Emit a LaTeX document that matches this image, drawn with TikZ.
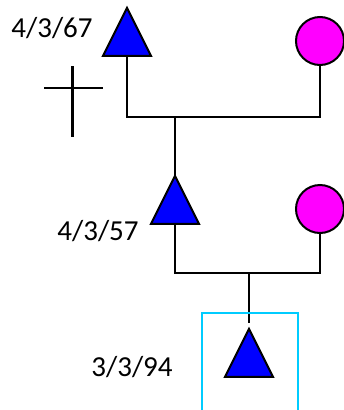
\documentclass[tikz,border=0pt]{standalone}
\usepackage{fontspec}
\setmainfont{Carlito}
\usetikzlibrary{shapes.geometric}
\definecolor{probandbox}{RGB}{0,204,255}
\definecolor{femalefill}{RGB}{255,0,255}

\begin{document}
\begin{tikzpicture}[x = 1pt, y = -1pt, % pixel units, y down
                line width = 2pt, % line style
                font = \fontsize{29}{32}\selectfont
            ]

            \useasboundingbox (0,0) rectangle (344,410);

            \tikzstyle{male}=[draw = black, fill = blue, isosceles triangle,
            isosceles triangle stretches, shape border rotate = 90,
            minimum width = 48pt, minimum height = 48pt, inner sep = 0pt,
            outer sep = 0pt]
            \tikzstyle{female}=[draw = black, fill = femalefill, circle,
            minimum size = 48pt, inner sep = 0pt, outer sep = 0pt]
            \tikzstyle{date}=[inner sep = 0pt]

            \node[male] (gf) at (127,41) {}; \node[female] (gm) at (320,41) {};
            \node[male] (f) at (175,209) {}; \node[female] (m) at (320,209) {};
            \node[male] (p) at (249,362) {};

            \node[date] (gfdate) at (52,28) {4/3/67};
            \node[date] (fdate) at (98,231) {4/3/57};
            \node[date] (pdate) at (132,367) {3/3/94};

            \coordinate (u1) at (177,117); \coordinate (u2) at (249,273);
            \coordinate (pend) at (249,323);

            % couples and children
            \draw (gf.lower side) -- (gf.lower side |- u1) -- (gm.south |- u1)
            -- (gm.south); \draw (f.apex |- u1) -- (f.apex);
            \draw (f.lower side) -- (f.lower side |- u2) -- (m.south |- u2)
            -- (m.south); \draw (u2) -- (pend);

            % deceased
            \draw[line width = 3pt] (72,66) -- (72,137);
            \draw (44,88) -- (103,88);

            % proband
            \draw[probandbox, line width = 1.5pt] (202,412) -- (202,313) --
            (298,313) -- (298,412);
\end{tikzpicture}
\end{document}
